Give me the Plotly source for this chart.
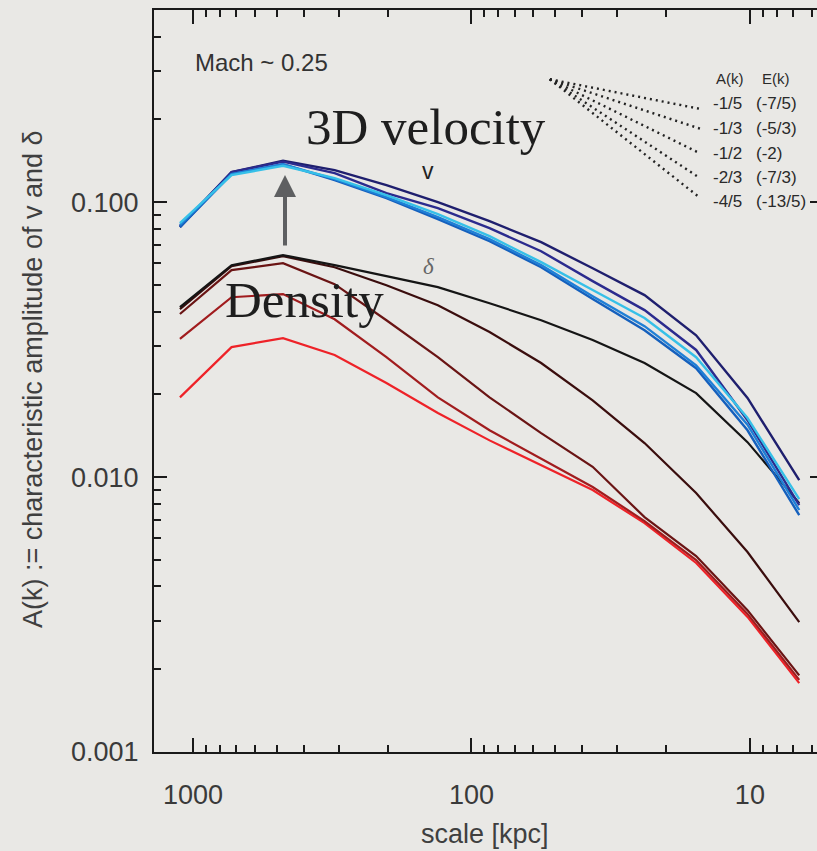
import math
import plotly.graph_objects as go

# ---- data -------------------------------------------------------------
# spatial scale of each Fourier mode [kpc]
scale_kpc = [1114, 727, 475, 310, 202, 132, 86.1, 56.2, 36.7, 23.9, 15.6, 10.2, 6.65]

# characteristic amplitude of the 3D velocity, five runs
vel_a = [0.0811, 0.1286, 0.1415, 0.1307, 0.1153, 0.1000, 0.0853, 0.0715, 0.0575, 0.0459, 0.0328, 0.0194, 0.00975]
vel_b = [0.0818, 0.1286, 0.1404, 0.1275, 0.1078, 0.0951, 0.0804, 0.0663, 0.0516, 0.0405, 0.0290, 0.0161, 0.00791]
vel_c = [0.0839, 0.1254, 0.1357, 0.1223, 0.1060, 0.0905, 0.0752, 0.0605, 0.0479, 0.0379, 0.0273, 0.0164, 0.00832]
vel_d = [0.0825, 0.1264, 0.1375, 0.1212, 0.1043, 0.0882, 0.0734, 0.0590, 0.0455, 0.0354, 0.0255, 0.0155, 0.00759]
vel_e = [0.0811, 0.1264, 0.1375, 0.1202, 0.1034, 0.0867, 0.0721, 0.0580, 0.0444, 0.0342, 0.0249, 0.0148, 0.00727]

# characteristic amplitude of the density fluctuation, five runs
dens_a = [0.0415, 0.0590, 0.0642, 0.0590, 0.0538, 0.0491, 0.0429, 0.0372, 0.0315, 0.0260, 0.0202, 0.0134, 0.00804]
dens_b = [0.0408, 0.0585, 0.0636, 0.0580, 0.0499, 0.0422, 0.0337, 0.0260, 0.0190, 0.0133, 0.00875, 0.00534, 0.00297]
dens_c = [0.0392, 0.0566, 0.0600, 0.0503, 0.0372, 0.0273, 0.0195, 0.01445, 0.0109, 0.00715, 0.00516, 0.00328, 0.00190]
dens_d = [0.0318, 0.0451, 0.0463, 0.0375, 0.0273, 0.0195, 0.0148, 0.0117, 0.0092, 0.00692, 0.00499, 0.00318, 0.00183]
dens_e = [0.0195, 0.0297, 0.0320, 0.0278, 0.0220, 0.0171, 0.0136, 0.01105, 0.00897, 0.00680, 0.00487, 0.00310, 0.00178]

# reference power laws A(k) ~ k^s and the matching E(k) slopes
slopes = [-1/5, -1/3, -1/2, -2/3, -4/5]
slope_text_A = ["-1/5", "-1/3", "-1/2", "-2/3", "-4/5"]
slope_text_E = ["(-7/5)", "(-5/3)", "(-2)", "(-7/3)", "(-13/5)"]
guide_x = [52.3, 15.1]      # scale range of the guide lines [kpc]
guide_y0 = 0.28             # common starting amplitude

# axis ticks
x_major = [1000, 100, 10]
x_major_text = ["1000", "100", "10"]
y_major = [0.001, 0.01, 0.1]
y_major_text = ["0.001", "0.010", "0.100"]

# ---- styling ----------------------------------------------------------
BG = "#e9e8e5"
INK = "#1a1a1a"
SANS = "Liberation Sans, Arial, sans-serif"
SERIF = "Liberation Serif, Times New Roman, serif"

vel_series = [(vel_a, "#1f1f6e"), (vel_b, "#2b2b8e"), (vel_e, "#1560bd"),
              (vel_d, "#1f7fd6"), (vel_c, "#36c0e8")]
dens_series = [(dens_e, "#ee2228"), (dens_d, "#a11c1e"), (dens_c, "#6a1414"),
               (dens_b, "#3a0d0d"), (dens_a, "#151515")]

fig = go.Figure()

for ys, col in dens_series:
    fig.add_trace(go.Scatter(x=scale_kpc, y=ys, mode="lines",
                             line=dict(color=col, width=2.2),
                             showlegend=False, hoverinfo="skip"))
for ys, col in vel_series:
    fig.add_trace(go.Scatter(x=scale_kpc, y=ys, mode="lines",
                             line=dict(color=col, width=2.4),
                             showlegend=False, hoverinfo="skip"))

# dotted guide lines, one per power-law slope (plotted on the mirrored axis)
for s in slopes:
    gy = [guide_y0 * (gx / guide_x[0]) ** (-s) for gx in guide_x]
    fig.add_trace(go.Scatter(x=guide_x, y=gy, mode="lines", yaxis="y2",
                             line=dict(color="#222222", width=2.4, dash="2px,4px"),
                             showlegend=False, hoverinfo="skip"))

x_minor = [m * 10 ** e for e in (0, 1, 2) for m in range(2, 10)]
y_minor = [m * 10.0 ** e for e in (-3, -2, -1) for m in range(2, 10)]

W, H = 817, 851
ML, MR, MT, MB = 154, 0, 10, 99
PW, PH = W - ML - MR, H - MT - MB


def px(xp):
    return (xp - ML) / PW


def py(yp):
    return (H - MB - yp) / PH


axis_common = dict(showline=True, linecolor=INK, linewidth=2,
                   ticks="inside", tickwidth=2, tickcolor=INK,
                   showgrid=False, zeroline=False,
                   tickfont=dict(family=SANS, size=27, color="#3a3a3a"))

fig.update_layout(
    width=W, height=H, autosize=False,
    margin=dict(l=ML, r=MR, t=MT, b=MB),
    paper_bgcolor=BG, plot_bgcolor=BG,
    xaxis=dict(type="log", range=[3.140, 0.759], autorange=False,
               mirror="ticks", ticklen=14,
               tickmode="array", tickvals=x_major, ticktext=x_major_text,
               ticklabelstandoff=18,
               minor=dict(ticks="inside", ticklen=7, tickwidth=2, tickcolor=INK,
                          tickmode="array", tickvals=x_minor, showgrid=False),
               **axis_common),
    yaxis=dict(type="log", range=[-3, math.log10(0.5)], autorange=False,
               ticklen=13,
               tickmode="array", tickvals=y_major, ticktext=y_major_text,
               ticklabelstandoff=8,
               minor=dict(ticks="inside", ticklen=7, tickwidth=2, tickcolor=INK,
                          tickmode="array", tickvals=y_minor, showgrid=False),
               **axis_common),
    yaxis2=dict(type="log", range=[-3, math.log10(0.5)], autorange=False,
                overlaying="y", side="right", anchor="x",
                showline=False, showgrid=False, zeroline=False,
                ticks="inside", ticklen=7, tickwidth=2, tickcolor=INK,
                tickmode="array", tickvals=y_major, showticklabels=False),
)

ann = []
# axis titles
ann.append(dict(text="A(k) := characteristic amplitude of v and δ",
                x=px(33), y=py(380), xref="paper", yref="paper",
                textangle=-90, showarrow=False, xanchor="center", yanchor="middle",
                font=dict(family=SANS, size=27, color="#3f3f3f")))
ann.append(dict(text="scale [kpc]", x=px(485), y=py(834), xref="paper", yref="paper",
                showarrow=False, xanchor="center", yanchor="middle",
                font=dict(family=SANS, size=27, color="#3f3f3f")))
# in-plot labels
ann.append(dict(text="Mach ~ 0.25", x=px(193), y=py(63), xref="paper", yref="paper",
                showarrow=False, xanchor="left", yanchor="middle",
                font=dict(family=SANS, size=24, color="#333333")))
ann.append(dict(text="3D velocity", x=px(304), y=py(127), xref="paper", yref="paper",
                showarrow=False, xanchor="left", yanchor="middle",
                font=dict(family=SERIF, size=51, color="#1e1e1e")))
ann.append(dict(text="Density", x=px(223), y=py(300), xref="paper", yref="paper",
                showarrow=False, xanchor="left", yanchor="middle",
                font=dict(family=SERIF, size=51, color="#1e1e1e")))
ann.append(dict(text="v", x=px(428), y=py(171), xref="paper", yref="paper",
                showarrow=False, xanchor="center", yanchor="middle",
                font=dict(family=SANS, size=23, color="#222222")))
ann.append(dict(text="<i>δ</i>", x=px(428), y=py(266), xref="paper", yref="paper",
                showarrow=False, xanchor="center", yanchor="middle",
                font=dict(family=SERIF, size=23, color="#666666")))
# arrow from the density peak to the velocity peak
ann.append(dict(text="", x=px(285), y=py(175), xref="paper", yref="paper",
                ax=0, ay=72, showarrow=True, arrowhead=2, arrowsize=1.1,
                arrowwidth=4, arrowcolor="#5e5f61", standoff=0))
# slope key
ann.append(dict(text="A(k)", x=px(714), y=py(78.5), xref="paper", yref="paper",
                showarrow=False, xanchor="left", yanchor="middle",
                font=dict(family=SANS, size=15, color="#2a2a2a")))
ann.append(dict(text="E(k)", x=px(760), y=py(78.5), xref="paper", yref="paper",
                showarrow=False, xanchor="left", yanchor="middle",
                font=dict(family=SANS, size=15, color="#2a2a2a")))
row_y = [104, 128.5, 153.5, 178, 201]
for ta, te, ry in zip(slope_text_A, slope_text_E, row_y):
    ann.append(dict(text=ta, x=px(711), y=py(ry), xref="paper", yref="paper",
                    showarrow=False, xanchor="left", yanchor="middle",
                    font=dict(family=SANS, size=17, color="#2a2a2a")))
    ann.append(dict(text=te, x=px(754), y=py(ry), xref="paper", yref="paper",
                    showarrow=False, xanchor="left", yanchor="middle",
                    font=dict(family=SANS, size=17, color="#2a2a2a")))

fig.update_layout(annotations=ann)

fig.write_html("out.html")
